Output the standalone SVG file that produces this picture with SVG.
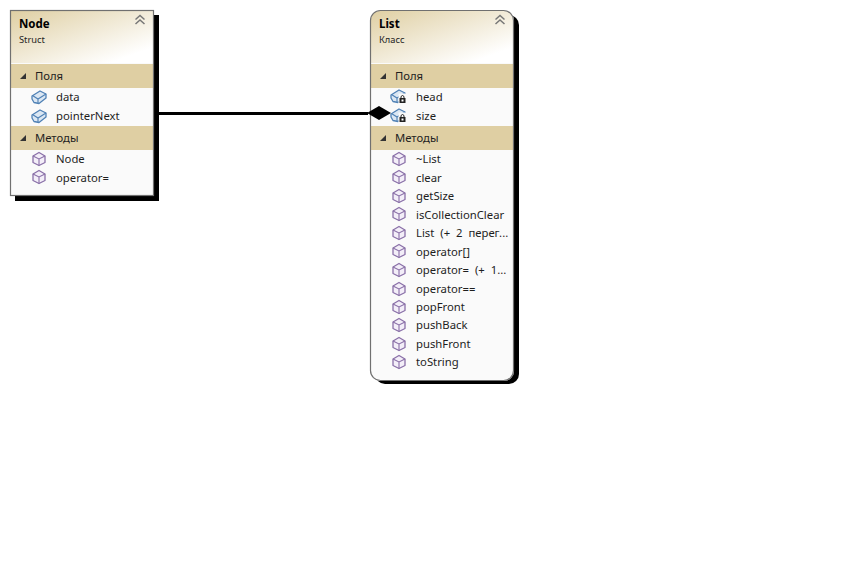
<svg xmlns="http://www.w3.org/2000/svg" width="857" height="586" viewBox="0 0 857 586">
<style>
text{font-family:"Noto Sans","Open Sans","Liberation Sans",sans-serif;font-size:11.3px;fill:#1e1e1e}
.t{font-weight:700;fill:#000;font-size:11.5px}
.s{font-size:9.3px;fill:#1e1e1e}
.w{word-spacing:3px}
.band{fill:#dfcfa3}
.body{fill:#fafafa}
.sh{fill:#000}
.bd{fill:none;stroke:#707070;stroke-width:1.2}
.tri{fill:#333}
.chev{fill:none;stroke:#777;stroke-width:1.5}
.f1{fill:#dbe7f3;stroke:#4f81b5;stroke-width:1.3;stroke-linejoin:round}
.f2{fill:none;stroke:#4f81b5;stroke-width:1.1}
.m1{fill:#f3eef8;stroke:#8a70a8;stroke-width:1.3;stroke-linejoin:round}
.m2{fill:none;stroke:#8a70a8;stroke-width:1.1}
.lk{fill:#222}
.lk2{fill:none;stroke:#222;stroke-width:1}
.conn{stroke:#000;stroke-width:3;fill:none}
</style>
<defs>
<linearGradient id="hd" x1="0" y1="0" x2="1" y2="1">
<stop offset="0" stop-color="#dfcfa3"/><stop offset="0.85" stop-color="#ffffff"/>
</linearGradient>
<g id="field"><path class="f1" d="M-7-1L1-6 7-3 7 1 0 6.500-5 5.500-7 2Z"/><path class="f2" d="M-6.500-1.500L-1 2 7-3M-1 2V6"/></g>
<g id="method"><path class="m1" d="M0-6.500L6-3V3.500L0 6.500-6 3.500V-3Z"/><path class="m2" d="M-6-3L0 0 6-3M0 0V6.500"/></g>
<g id="lock"><rect x="0.500" y="-2.500" width="8" height="10.500" fill="#fafafa"/><rect class="lk" x="1.500" y="2" width="6" height="5"/><path class="lk2" d="M3 2V0.500Q4.500-1.500 6 0.500V2"/><rect x="3.500" y="3.500" width="2" height="2" fill="#fff"/></g>
<path id="chev" class="chev" d="M-4.500-1.500L0-5.500 4.500-1.500M-4.500 3L0-1 4.500 3"/>
<path id="tri" class="tri" d="M3-3V3H-3Z"/>
</defs>
<g id="node-Node">
<rect class="sh" x="15" y="15" width="144" height="186"/>
<rect class="body" x="10" y="10" width="144" height="186"/>
<rect fill="url(#hd)" x="11" y="11" width="142" height="52"/>
<rect class="band" x="11" y="64" width="142" height="24"/>
<rect class="band" x="11" y="126" width="142" height="24"/>
<rect class="bd" x="10.500" y="10.500" width="143" height="185"/>
<text class="t" x="19" y="28">Node</text>
<text class="s" x="19" y="43">Struct</text>
<use href="#chev" x="140" y="21"/>
<use href="#tri" x="23" y="76"/>
<text x="35" y="80">Поля</text>
<use href="#field" x="39" y="97"/>
<text x="56" y="101">data</text>
<use href="#field" x="39" y="116"/>
<text x="56" y="120">pointerNext</text>
<use href="#tri" x="23" y="138"/>
<text x="35" y="142">Методы</text>
<use href="#method" x="39" y="159"/>
<text x="56" y="163">Node</text>
<use href="#method" x="39" y="177"/>
<text x="56" y="182">operator=</text>
</g>
<g id="node-List">
<rect class="sh" x="375" y="15" width="144" height="369" rx="10"/>
<rect class="body" x="370" y="10" width="144" height="371" rx="10"/>
<path fill="url(#hd)" d="M371 63V20Q371 11 380 11H504Q513 11 513 20V63Z"/>
<rect class="band" x="371" y="64" width="142" height="24"/>
<rect class="band" x="371" y="126" width="142" height="24"/>
<rect class="bd" x="370.500" y="10.500" width="143" height="370" rx="10"/>
<text class="t" x="379" y="28">List</text>
<text class="s" x="379" y="43">Класс</text>
<use href="#chev" x="500" y="21"/>
<use href="#tri" x="383" y="76"/>
<text x="395" y="80">Поля</text>
<use href="#field" x="398" y="96"/><use href="#lock" x="398" y="96"/>
<text x="416" y="101">head</text>
<use href="#field" x="398" y="115"/><use href="#lock" x="398" y="115"/>
<text x="416" y="120">size</text>
<use href="#tri" x="383" y="138"/>
<text x="395" y="142">Методы</text>
<use href="#method" x="399" y="159"/><text x="416" y="163">~List</text>
<use href="#method" x="399" y="177"/><text x="416" y="182">clear</text>
<use href="#method" x="399" y="196"/><text x="416" y="200">getSize</text>
<use href="#method" x="399" y="214"/><text x="416" y="219">isCollectionClear</text>
<use href="#method" x="399" y="233"/><text class="w" x="416" y="237">List (+ 2 перег...</text>
<use href="#method" x="399" y="251"/><text x="416" y="256">operator[]</text>
<use href="#method" x="399" y="270"/><text class="w" x="416" y="274">operator= (+ 1...</text>
<use href="#method" x="399" y="289"/><text x="416" y="293">operator==</text>
<use href="#method" x="399" y="307"/><text x="416" y="311">popFront</text>
<use href="#method" x="399" y="325"/><text x="416" y="329">pushBack</text>
<use href="#method" x="399" y="344"/><text x="416" y="348">pushFront</text>
<use href="#method" x="399" y="362"/><text x="416" y="366">toString</text>
</g>
<g id="connectors">
<path class="conn" d="M159 113.500H368"/>
<path fill="#000" d="M367 113L379 106 391 113 379 120Z"/>
</g>
</svg>
